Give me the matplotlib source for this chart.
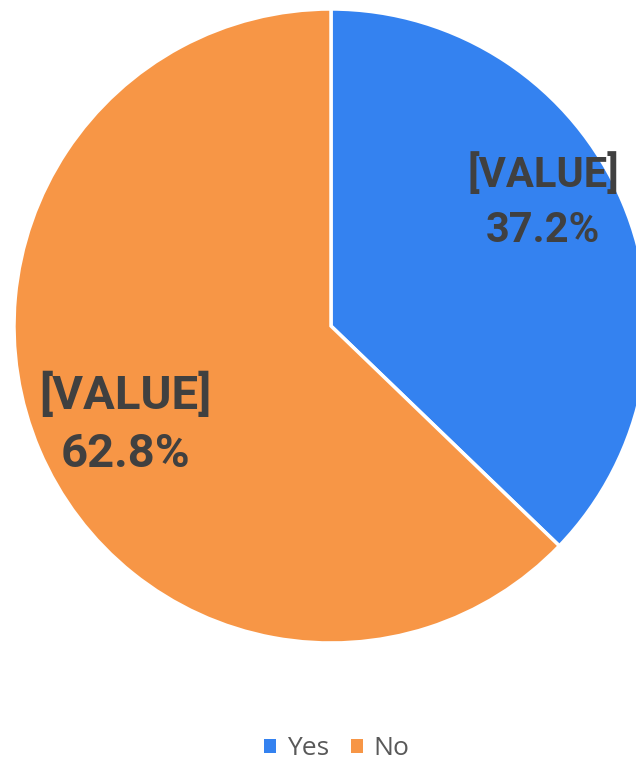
import matplotlib.pyplot as plt
from matplotlib.patches import Patch

labels = ["Yes", "No"]
shares = [37.2, 62.8]
value_text = ["[VALUE]", "[VALUE]"]
colors = ["#3482F0", "#F79646"]


def main():
    fig = plt.figure(figsize=(6.36, 7.65), dpi=100)
    ax = fig.add_axes([0, 0, 1, 1])

    ax.pie(shares, colors=colors, startangle=90, counterclock=False,
           center=(331, 439), radius=317, frame=True,
           wedgeprops=dict(edgecolor="white", linewidth=2.5))
    ax.set_xlim(0, 636)
    ax.set_ylim(0, 765)
    ax.axis("off")

    # label anchor points (pixel space) and sizes, Excel "best fit" style
    label_pos = [(543, 563), (125, 341)]
    label_size = [30, 34]
    for (x, y), v, s, fs in zip(label_pos, value_text, shares, label_size):
        ax.text(x, y, f"{v}\n{s:.1f}%", ha="center", va="center",
                fontsize=fs, fontweight="bold", color="#404040",
                family="Roboto", linespacing=1.42)

    handles = [Patch(facecolor=c, edgecolor="none") for c in colors]
    fig.legend(handles, labels, loc="center", ncol=2, frameon=False,
               bbox_to_anchor=(0.53, 0.021), handlelength=0.45,
               handleheight=0.45, handletextpad=0.4, columnspacing=0.85,
               labelcolor="#595959", prop={"family": "Open Sans", "size": 19})

    fig.savefig("out.png", dpi=100)


if __name__ == "__main__":
    main()
